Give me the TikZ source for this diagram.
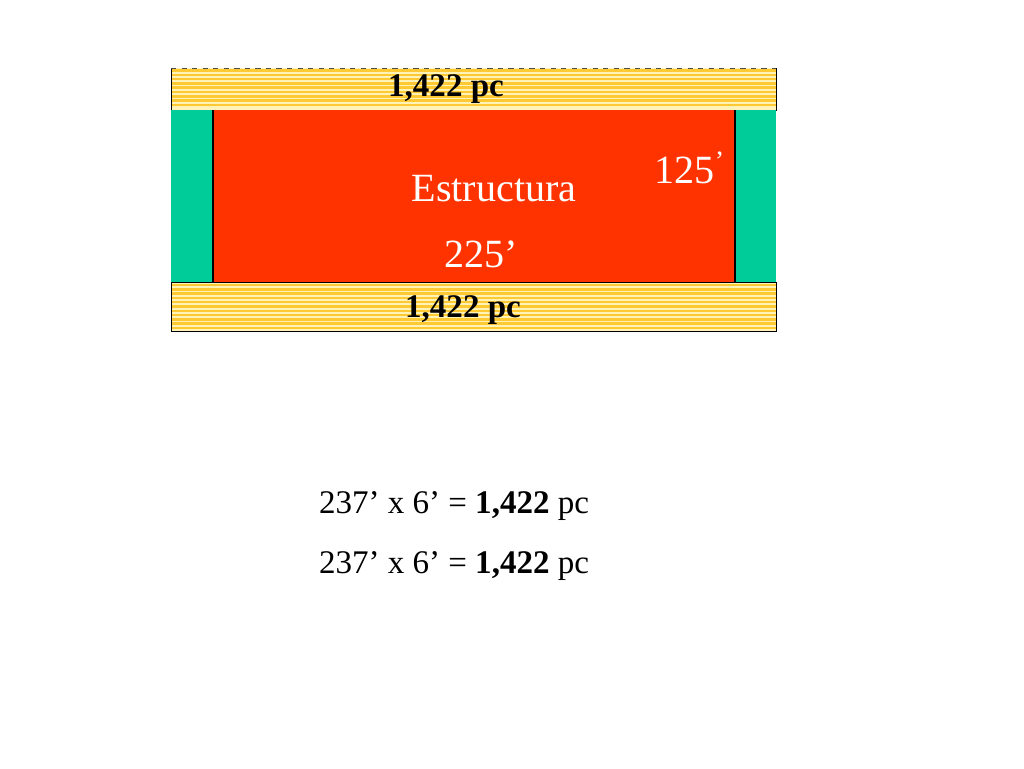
\documentclass[tikz,border=0pt]{standalone}
\usepackage{fontspec}
\setmainfont{Liberation Serif}
\definecolor{estred}{HTML}{FF3300}
\definecolor{postgreen}{HTML}{00CC99}
\definecolor{plankgold}{HTML}{FFC933}
\definecolor{planklight}{HTML}{FFF3B8}
\tikzset{
  plankstripe/.style={plankgold,line width=1.4pt},
  bigtext/.style={text=white,font=\fontsize{22.8}{26}\selectfont,inner sep=0pt},
  sumtext/.style={font=\fontsize{18.8}{22}\selectfont,inner sep=0pt}
}
\begin{document}
\begin{tikzpicture}[x=0.02cm,y=-0.02cm]
        \useasboundingbox (0,0) rectangle (1024,768);
        % planks top and bottom
        \fill[planklight] (171,68) rectangle (776,110);
        \foreach \y in {70.5,74.8,...,108} \draw[plankstripe] (171,\y) -- (776,\y);
        \draw[thin] (171,68) -- (171,110) -- (776,110) -- (776,68);
        \draw[thin,dashed,gray!60!black] (171,68) -- (776,68);
        \fill[planklight] (171,282) rectangle (776,331);
        \foreach \y in {285,289.3,...,329} \draw[plankstripe] (171,\y) -- (776,\y);
        \draw[thin] (171,282) rectangle (776,331);
        % posts and structure
        \fill[postgreen] (171,110) rectangle (213,282);
        \fill[postgreen] (735,110) rectangle (776,282);
        \fill[estred] (213,110) rectangle (735,282);
        \draw[thick] (213,110) -- (213,282);
        \draw[thick] (735,110) -- (735,282);
        % labels
        \node[sumtext] (topplank) at (446,89) {\textbf{1,422 pc}};
        \node[sumtext] (botplank) at (463,310) {\textbf{1,422 pc}};
        \node[bigtext] (estructura) at (494,189) {Estructura};
        \node[bigtext] (length) at (481,254) {225’};
        \node[bigtext] (width) at (690,168) {125\textsuperscript{’}};
        \node[sumtext] (sumtop) at (454,506) {237’ x 6’ = \textbf{1,422} pc};
        \node[sumtext] (sumbot) at (454,566) {237’ x 6’ = \textbf{1,422} pc};
    \end{tikzpicture}
\end{document}
